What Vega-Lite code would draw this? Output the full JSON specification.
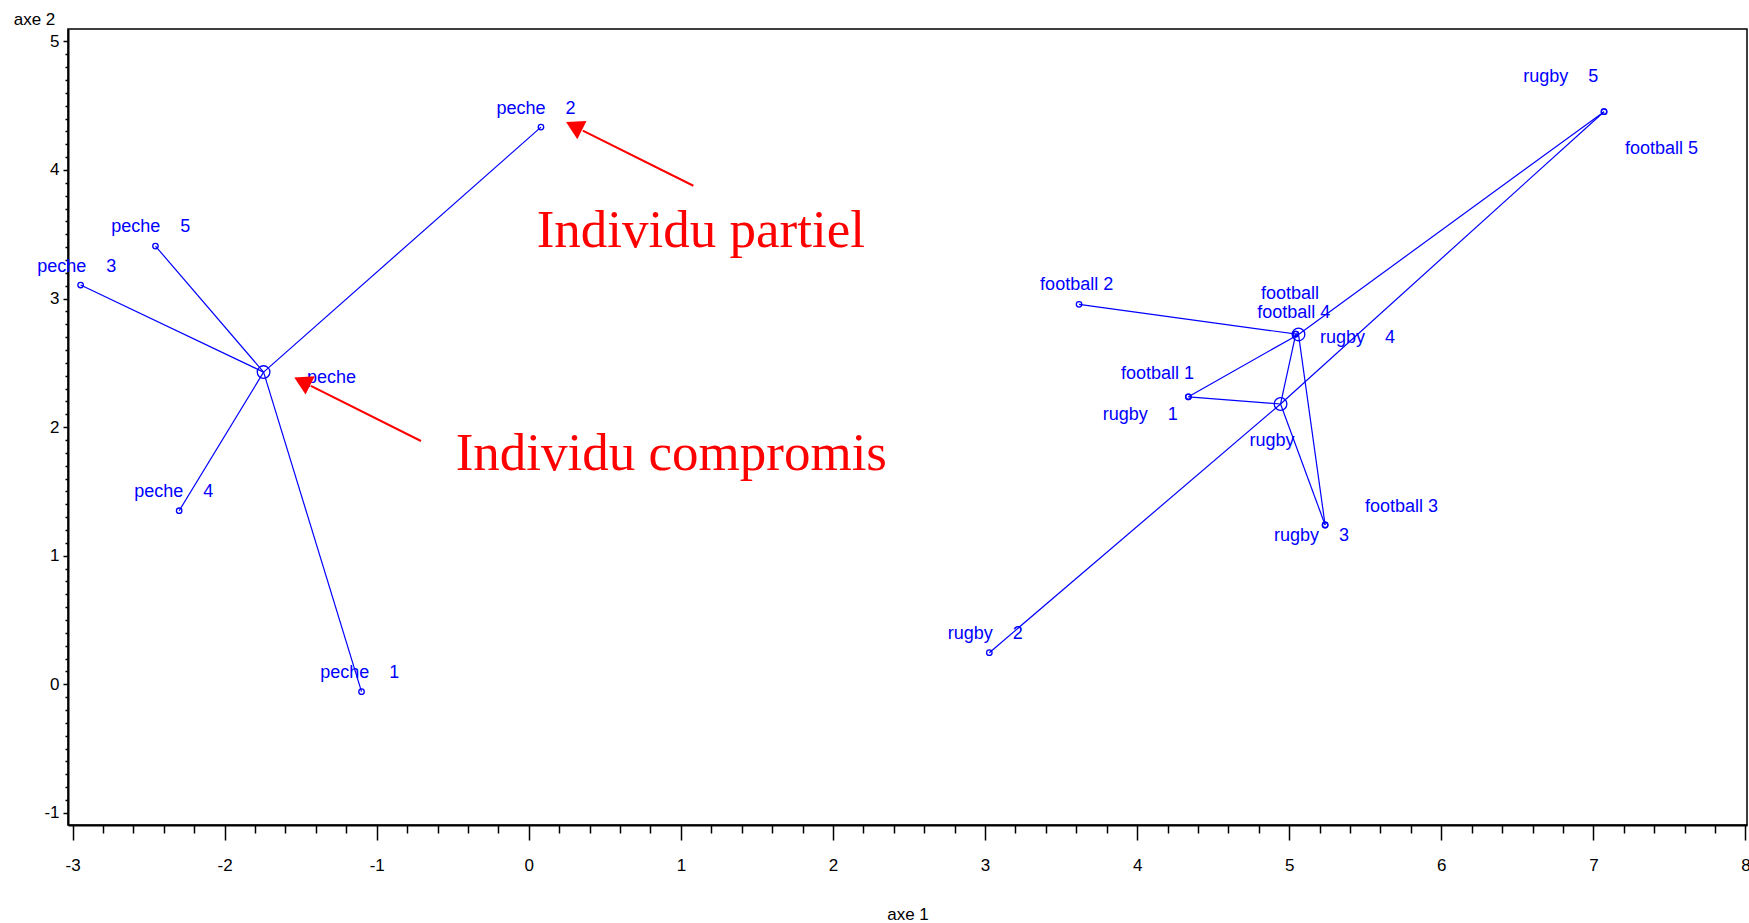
{
  "$schema": "https://vega.github.io/schema/vega-lite/v6.json",
  "autosize": {"type": "none"},
  "padding": {"left": 68, "top": 29, "right": 2, "bottom": 98},
  "width": 1679,
  "height": 796,
  "background": "white",
  "config": {
    "view": {"stroke": "#000", "strokeWidth": 1.5},
    "axis": {"grid": false}
  },
  "datasets": {
    "partiels": [
      {"groupe": "peche", "num": 1, "x": -1.100, "y": -0.057, "cx": -1.744, "cy": 2.428},
      {"groupe": "peche", "num": 2, "x": 0.080, "y": 4.333, "cx": -1.744, "cy": 2.428},
      {"groupe": "peche", "num": 3, "x": -2.947, "y": 3.105, "cx": -1.744, "cy": 2.428},
      {"groupe": "peche", "num": 4, "x": -2.299, "y": 1.350, "cx": -1.744, "cy": 2.428},
      {"groupe": "peche", "num": 5, "x": -2.455, "y": 3.408, "cx": -1.744, "cy": 2.428},
      {"groupe": "football", "num": 1, "x": 4.337, "y": 2.236, "cx": 5.061, "cy": 2.721},
      {"groupe": "football", "num": 2, "x": 3.618, "y": 2.955, "cx": 5.061, "cy": 2.721},
      {"groupe": "football", "num": 3, "x": 5.236, "y": 1.239, "cx": 5.061, "cy": 2.721},
      {"groupe": "football", "num": 4, "x": 5.043, "y": 2.724, "cx": 5.061, "cy": 2.721},
      {"groupe": "football", "num": 5, "x": 7.070, "y": 4.453, "cx": 5.061, "cy": 2.721},
      {"groupe": "rugby", "num": 1, "x": 4.337, "y": 2.236, "cx": 4.943, "cy": 2.180},
      {"groupe": "rugby", "num": 2, "x": 3.028, "y": 0.246, "cx": 4.943, "cy": 2.180},
      {"groupe": "rugby", "num": 3, "x": 5.236, "y": 1.239, "cx": 4.943, "cy": 2.180},
      {"groupe": "rugby", "num": 4, "x": 5.043, "y": 2.724, "cx": 4.943, "cy": 2.180},
      {"groupe": "rugby", "num": 5, "x": 7.070, "y": 4.453, "cx": 4.943, "cy": 2.180}
    ],
    "compromis": [
      {"groupe": "peche", "x": -1.744, "y": 2.428},
      {"groupe": "football", "x": 5.061, "y": 2.721},
      {"groupe": "rugby", "x": 4.943, "y": 2.180}
    ],
    "etiquettes": [
      {"texte": "peche\u00a0\u00a0\u00a0\u00a02", "x": -0.212, "y": 4.471},
      {"texte": "peche\u00a0\u00a0\u00a0\u00a05", "x": -2.746, "y": 3.558},
      {"texte": "peche\u00a0\u00a0\u00a0\u00a03", "x": -3.232, "y": 3.243},
      {"texte": "peche", "x": -1.458, "y": 2.380},
      {"texte": "peche\u00a0\u00a0\u00a0\u00a04", "x": -2.595, "y": 1.493},
      {"texte": "peche\u00a0\u00a0\u00a0\u00a01", "x": -1.372, "y": 0.086},
      {"texte": "football 2", "x": 3.362, "y": 3.105},
      {"texte": "football", "x": 4.814, "y": 3.035},
      {"texte": "football 4", "x": 4.790, "y": 2.885},
      {"texte": "rugby\u00a0\u00a0\u00a0\u00a04", "x": 5.202, "y": 2.690},
      {"texte": "football 1", "x": 3.894, "y": 2.413},
      {"texte": "rugby\u00a0\u00a0\u00a0\u00a01", "x": 3.774, "y": 2.094},
      {"texte": "rugby", "x": 4.738, "y": 1.894},
      {"texte": "football 3", "x": 5.498, "y": 1.376},
      {"texte": "rugby\u00a0\u00a0\u00a0\u00a03", "x": 4.900, "y": 1.153},
      {"texte": "rugby\u00a0\u00a0\u00a0\u00a05", "x": 6.539, "y": 4.725},
      {"texte": "football 5", "x": 7.208, "y": 4.160},
      {"texte": "rugby\u00a0\u00a0\u00a0\u00a02", "x": 2.755, "y": 0.389}
    ],
    "fleches": [
      {"nom": "partiel", "x": 1.082, "y": 3.877, "x2": 0.355, "y2": 4.306, "tx": 0.297, "ty": 4.341},
      {"nom": "compromis", "x": -0.709, "y": 1.892, "x2": -1.433, "y2": 2.321, "tx": -1.490, "ty": 2.356}
    ],
    "annotations": [
      {"texte": "Individu partiel", "x": 0.052, "y": 3.400},
      {"texte": "Individu compromis", "x": -0.481, "y": 1.670}
    ]
  },
  "resolve": {"axis": {"x": "independent", "y": "independent"}},
  "layer": [
    {
      "mark": {"type": "rule", "color": "#000", "strokeWidth": 1.5},
      "encoding": {
        "x": {
          "datum": 0,
          "type": "quantitative",
          "scale": {"domain": [-3.03, 8.01], "nice": false, "zero": false},
          "axis": {
            "orient": "bottom",
            "values": [-3, -2, -1, 0, 1, 2, 3, 4, 5, 6, 7, 8],
            "labelExpr": "'' + datum.value",
            "tickSize": 15,
            "tickColor": "#000",
            "tickWidth": 1.5,
            "domainColor": "#000",
            "domainWidth": 2,
            "labelFont": "Liberation Sans",
            "labelFontSize": 17,
            "labelColor": "#000",
            "labelPadding": 17,
            "labelFlush": false,
            "labelOverlap": false,
            "title": "axe 1",
            "titleFont": "Liberation Sans",
            "titleFontSize": 17,
            "titleFontWeight": "normal",
            "titleColor": "#000",
            "titleY": 89,
            "titleBaseline": "middle"
          }
        }
      }
    },
    {
      "mark": {"type": "rule", "color": "#000", "strokeWidth": 1.5},
      "encoding": {
        "y": {
          "datum": 0,
          "type": "quantitative",
          "scale": {"domain": [-1.094, 5.096], "nice": false, "zero": false},
          "axis": {
            "orient": "left",
            "values": [-1, 0, 1, 2, 3, 4, 5],
            "labelExpr": "'' + datum.value",
            "tickSize": 5,
            "tickColor": "#000",
            "tickWidth": 1.5,
            "domainColor": "#000",
            "domainWidth": 2,
            "labelFont": "Liberation Sans",
            "labelFontSize": 17,
            "labelColor": "#000",
            "labelPadding": 4,
            "labelFlush": false,
            "labelOverlap": false,
            "title": "axe 2",
            "titleFont": "Liberation Sans",
            "titleFontSize": 17,
            "titleFontWeight": "normal",
            "titleColor": "#000",
            "titleAngle": 0,
            "titleX": -34,
            "titleY": -10,
            "titleAlign": "center",
            "titleBaseline": "middle"
          }
        }
      }
    },
    {
      "data": {"name": "partiels"},
      "mark": {"type": "rule", "color": "#0000ff", "strokeWidth": 1.2},
      "encoding": {
        "x": {
          "field": "x",
          "type": "quantitative",
          "axis": {
            "orient": "bottom",
            "values": [-2.8, -2.6, -2.4, -2.2, -1.8, -1.6, -1.4, -1.2, -0.8, -0.6, -0.4, -0.2, 0.2, 0.4, 0.6, 0.8, 1.2, 1.4, 1.6, 1.8, 2.2, 2.4, 2.6, 2.8, 3.2, 3.4, 3.6, 3.8, 4.2, 4.4, 4.6, 4.8, 5.2, 5.4, 5.6, 5.8, 6.2, 6.4, 6.6, 6.8, 7.2, 7.4, 7.6, 7.8],
            "tickSize": 8,
            "tickColor": "#000",
            "tickWidth": 1.5,
            "labels": false,
            "domain": false,
            "title": null
          }
        },
        "y": {
          "field": "y",
          "type": "quantitative",
          "axis": {
            "orient": "left",
            "values": [-0.9, -0.8, -0.7, -0.6, -0.5, -0.4, -0.3, -0.2, -0.1, 0.1, 0.2, 0.3, 0.4, 0.5, 0.6, 0.7, 0.8, 0.9, 1.1, 1.2, 1.3, 1.4, 1.5, 1.6, 1.7, 1.8, 1.9, 2.1, 2.2, 2.3, 2.4, 2.5, 2.6, 2.7, 2.8, 2.9, 3.1, 3.2, 3.3, 3.4, 3.5, 3.6, 3.7, 3.8, 3.9, 4.1, 4.2, 4.3, 4.4, 4.5, 4.6, 4.7, 4.8, 4.9],
            "tickSize": 3,
            "tickColor": "#000",
            "tickWidth": 1.5,
            "labels": false,
            "domain": false,
            "title": null
          }
        },
        "x2": {"field": "cx"},
        "y2": {"field": "cy"}
      }
    },
    {
      "data": {"name": "partiels"},
      "mark": {"type": "point", "shape": "circle", "filled": false, "color": "#0000ff", "size": 30, "strokeWidth": 1.3, "opacity": 1},
      "encoding": {
        "x": {"field": "x", "type": "quantitative", "axis": null},
        "y": {"field": "y", "type": "quantitative", "axis": null}
      }
    },
    {
      "data": {"name": "compromis"},
      "mark": {"type": "point", "shape": "circle", "filled": false, "color": "#0000ff", "size": 160, "strokeWidth": 1.3, "opacity": 1},
      "encoding": {
        "x": {"field": "x", "type": "quantitative", "axis": null},
        "y": {"field": "y", "type": "quantitative", "axis": null}
      }
    },
    {
      "data": {"name": "etiquettes"},
      "mark": {"type": "text", "align": "left", "baseline": "middle", "font": "Liberation Sans", "fontSize": 18, "color": "#0000ff"},
      "encoding": {
        "x": {"field": "x", "type": "quantitative", "axis": null},
        "y": {"field": "y", "type": "quantitative", "axis": null},
        "text": {"field": "texte"}
      }
    },
    {
      "data": {"name": "fleches"},
      "mark": {"type": "rule", "color": "#ff0000", "strokeWidth": 2},
      "encoding": {
        "x": {"field": "x", "type": "quantitative", "axis": null},
        "y": {"field": "y", "type": "quantitative", "axis": null},
        "x2": {"field": "x2"},
        "y2": {"field": "y2"}
      }
    },
    {
      "data": {"name": "fleches"},
      "mark": {"type": "point", "shape": "triangle-up", "filled": true, "color": "#ff0000", "size": 420, "angle": 296.6, "opacity": 1},
      "encoding": {
        "x": {"field": "tx", "type": "quantitative", "axis": null},
        "y": {"field": "ty", "type": "quantitative", "axis": null}
      }
    },
    {
      "data": {"name": "annotations"},
      "mark": {"type": "text", "align": "left", "baseline": "alphabetic", "font": "Liberation Serif", "fontSize": 53, "color": "#ff0000"},
      "encoding": {
        "x": {"field": "x", "type": "quantitative", "axis": null},
        "y": {"field": "y", "type": "quantitative", "axis": null},
        "text": {"field": "texte"}
      }
    }
  ]
}
